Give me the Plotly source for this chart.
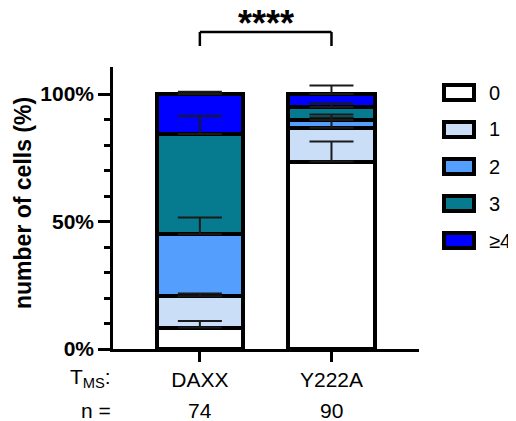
import plotly.graph_objects as go
import numpy as np

categories = ["DAXX", "Y222A"]
n_values = [74, 90]
classes = ["0", "1", "2", "3", "≥4"]
colors = ["#FFFFFF", "#CADFF7", "#549FFE", "#067A8E", "#0000FF"]

pct_0 = [8.4, 73.5]
pct_1 = [12.3, 13.3]
pct_2 = [24.3, 3.0]
pct_3 = [39.3, 5.1]
pct_4 = [15.7, 5.1]
err_0 = [2.6, 7.9]
err_1 = [1.1, 4.0]
err_2 = [6.6, 2.2]
err_3 = [7.1, 1.4]
err_4 = [0.9, 3.3]

pcts = [pct_0, pct_1, pct_2, pct_3, pct_4]
errs = [err_0, err_1, err_2, err_3, err_4]

FONT = "Arial, Liberation Sans, sans-serif"
OFF = 8  # page body margin
W, H = 516 - OFF, 421 - OFF
# plot area in screen pixels: x 113..419, y 67..349
ML, MT = 113 - OFF, 67 - OFF
MR = W - (419 - OFF)
MB = H - (349 - OFF)
PW, PH = W - ML - MR, H - MT - MB

def px_x(x):
    return (x - OFF - ML) / PW

def px_y(y):
    return (H - MB - (y - OFF)) / PH

fig = go.Figure()
for cls, col, vals in zip(classes, colors, pcts):
    fig.add_trace(go.Bar(
        x=categories, y=vals, name=cls, width=0.654,
        marker=dict(color=col, line=dict(color="black", width=4)),
        showlegend=False,
    ))

cum = np.cumsum(np.array(pcts), axis=0)
for i, e in enumerate(errs):
    fig.add_trace(go.Scatter(
        x=categories, y=cum[i], mode="markers",
        marker=dict(opacity=0, size=1),
        error_y=dict(type="data", symmetric=False, array=e,
                     arrayminus=[0] * len(e), color="#1a1a1a",
                     thickness=2, width=22),
        showlegend=False, hoverinfo="skip", cliponaxis=False,
    ))

shapes = []
annotations = []
# significance bracket
yb0, yb1 = px_y(46), px_y(32)
shapes.append(dict(type="line", xref="x", yref="paper", x0=categories[0], x1=categories[0],
                   y0=yb0, y1=yb1, line=dict(color="black", width=2.5)))
shapes.append(dict(type="line", xref="x", yref="paper", x0=categories[0], x1=categories[1],
                   y0=yb1, y1=yb1, line=dict(color="black", width=2.5)))
shapes.append(dict(type="line", xref="x", yref="paper", x0=categories[1], x1=categories[1],
                   y0=yb0, y1=yb1, line=dict(color="black", width=2.5)))
annotations.append(dict(text="<b>****</b>", xref="x", yref="paper", x=0.5, y=px_y(1),
                        xanchor="center", yanchor="top", showarrow=False,
                        font=dict(family=FONT, size=36, color="black")))

# legend
for k, (cls, col) in enumerate(zip(classes, colors)):
    cy = 92.5 + 37 * k
    shapes.append(dict(type="rect", xref="paper", yref="paper",
                       x0=px_x(444), x1=px_x(474), y0=px_y(cy + 7.5), y1=px_y(cy - 7.5),
                       fillcolor=col, line=dict(color="black", width=4)))
    annotations.append(dict(text=cls, xref="paper", yref="paper", x=px_x(487), y=px_y(cy),
                            xanchor="left", yanchor="middle", showarrow=False,
                            font=dict(family=FONT, size=20, color="black")))

# y title
annotations.append(dict(text="<b>number of cells (%)</b>", xref="paper", yref="paper",
                        x=px_x(23), y=px_y(203), textangle=-90, xanchor="center", yanchor="middle",
                        showarrow=False, font=dict(family=FONT, size=23, color="black")))
# row labels
annotations.append(dict(text="T<sub>MS</sub>:", xref="paper", yref="paper", x=px_x(113),
                        y=px_y(378), xanchor="right", yanchor="middle", showarrow=False,
                        font=dict(family=FONT, size=21, color="black")))
annotations.append(dict(text="n =", xref="paper", yref="paper", x=px_x(113),
                        y=px_y(410), xanchor="right", yanchor="middle", showarrow=False,
                        font=dict(family=FONT, size=21, color="black")))
for c, n in zip(categories, n_values):
    annotations.append(dict(text=str(n), xref="x", yref="paper", x=c, y=px_y(410),
                            xanchor="center", yanchor="middle", showarrow=False,
                            font=dict(family=FONT, size=21, color="black")))

fig.update_layout(
    width=W, height=H, barmode="stack",
    margin=dict(l=ML, r=MR, t=MT, b=MB, autoexpand=False),
    paper_bgcolor="white", plot_bgcolor="white",
    shapes=shapes, annotations=annotations,
    xaxis=dict(type="category", range=[-0.66, 1.665], showgrid=False, zeroline=False,
               showline=True, linecolor="black", linewidth=2.5,
               ticks="outside", ticklen=10, tickwidth=2.5, tickcolor="black",
               tickfont=dict(family=FONT, size=21, color="black")),
    yaxis=dict(range=[0, 110.6], showgrid=False, zeroline=False,
               showline=True, linecolor="black", linewidth=2.5,
               tickvals=[0, 50, 100], ticktext=["<b>0%</b>", "<b>50%</b>", "<b>100%</b>"],
               ticks="outside", ticklen=12, tickwidth=2.5, tickcolor="black",
               tickfont=dict(family=FONT, size=21, color="black"),
               minor=dict(tickvals=[10, 20, 30, 40, 60, 70, 80, 90], ticks="outside",
                          ticklen=6, tickwidth=2.5, tickcolor="black")),
)

fig.write_html("out.html")
